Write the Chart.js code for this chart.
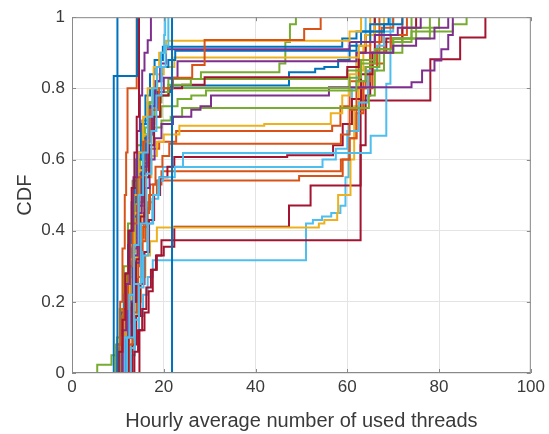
<!DOCTYPE html>
<html>
<head>
<meta charset="utf-8">
<script src="https://cdn.jsdelivr.net/npm/chart.js@4"></script>
<style>
  body { margin: 0; background: #fff; }
  canvas { display: block; }
</style>
</head>
<body>
<canvas id="cdf-chart" width="549" height="434"></canvas>
<script>
// --- AXES ---
const xTicks = [0, 20, 40, 60, 80, 100];
const yTicks = [0, 0.2, 0.4, 0.6, 0.8, 1];
const yTickLabels = ['0', '0.2', '0.4', '0.6', '0.8', '1'];

// MATLAB default colour order
const BLUE = '#0072BD', ORANGE = '#D95319', YELLOW = '#EDB120', PURPLE = '#7E2F8E',
      GREEN = '#77AC30', LIGHTBLUE = '#4DBEEE', RED = '#A2142F';

// --- CDF STEPS: [threads, cumulative fraction] ---
const s01 = [[9.9, 0], [9.9, 1]];
const s02 = [[21.8, 0], [21.8, 1]];
const s03 = [[9.1, 0], [9.1, 0.835], [14.2, 1]];
const s04 = [[9.4, 0], [10.2, 0.06], [11, 0.15], [11.6, 0.28], [12.3, 0.4], [13, 0.52], [13.6, 0.62], [14.1, 0.72], [14.6, 1]];
const s05 = [[9.3, 0], [9.8, 0.08], [10.5, 0.2], [11, 0.35], [11.5, 0.5], [11.8, 0.62], [12.1, 0.8], [14.1, 1]];
const s06 = [[10.2, 0], [11, 0.12], [11.8, 0.25], [12.6, 0.4], [13.4, 0.55], [14.2, 0.68], [14.8, 0.78], [15.3, 0.85], [15.8, 0.9], [16.5, 0.935], [17.2, 1]];
const s07 = [[10.6, 0], [11.5, 0.1], [12.5, 0.22], [13.5, 0.36], [14.5, 0.5], [15.5, 0.62], [16.5, 0.72], [17.5, 0.8], [18.5, 0.86], [19.4, 0.9], [20.1, 0.95], [20.3, 1]];
const s08 = [[11, 0], [12, 0.1], [13.5, 0.25], [15, 0.42], [16.2, 0.56], [17.3, 0.68], [18.4, 0.78], [19.5, 0.86], [20.4, 0.92], [21, 1]];
const s09 = [[9.6, 0], [10.4, 0.08], [11.2, 0.18], [12.2, 0.3], [13.2, 0.42], [14.3, 0.55], [15.5, 0.65], [17, 0.74], [19, 0.8], [22, 0.83], [26.2, 0.866], [28.9, 0.936], [50.6, 0.967], [54.2, 1]];
const s10 = [[9.5, 0], [10.5, 0.1], [11.5, 0.22], [12.5, 0.36], [13.5, 0.5], [14.5, 0.62], [15.5, 0.72], [16.5, 0.8], [17.8, 0.86], [19, 0.9], [20.5, 0.934], [60.5, 0.96], [63, 1]];
const s11 = [[9.7, 0], [10.5, 0.1], [11.3, 0.22], [12.2, 0.36], [13, 0.48], [14, 0.6], [15, 0.7], [16, 0.78], [17, 0.84], [18, 0.88], [19.8, 0.917], [58.9, 0.94], [62, 0.96], [65, 0.98], [69, 1]];
const s12 = [[10.8, 0], [11.6, 0.1], [12.5, 0.2], [13.4, 0.33], [14.3, 0.45], [15.2, 0.56], [16.2, 0.66], [17.2, 0.75], [18.2, 0.82], [19.2, 0.87], [20.5, 0.91], [60.5, 0.93], [66, 0.95], [71, 0.97], [76, 1]];
const s13 = [[10, 0], [10.8, 0.08], [11.6, 0.18], [12.5, 0.3], [13.5, 0.44], [14.5, 0.56], [15.6, 0.66], [16.8, 0.75], [18, 0.82], [19.5, 0.86], [21, 0.88], [22.5, 0.906], [62, 0.93], [65, 0.96], [68, 0.98], [72, 1]];
const s14 = [[10.3, 0], [11, 0.1], [11.8, 0.2], [12.7, 0.32], [13.6, 0.45], [14.6, 0.57], [15.6, 0.67], [16.6, 0.75], [17.6, 0.8], [18.6, 0.84], [20, 0.86], [22.3, 0.887], [62.5, 0.92], [64, 0.95], [66, 0.98], [68, 1]];
const s15 = [[10.5, 0], [11.3, 0.1], [12.2, 0.22], [13.2, 0.35], [14.2, 0.47], [15.2, 0.58], [16.3, 0.67], [17.5, 0.74], [18.7, 0.79], [20, 0.83], [23, 0.876], [62, 0.9], [70, 0.92], [75, 0.94], [79, 0.97], [82, 1]];
const s16 = [[8.9, 0], [9.6, 0.08], [10.4, 0.18], [11.3, 0.3], [12.2, 0.42], [13.2, 0.54], [14.2, 0.64], [15.3, 0.71], [16.5, 0.76], [18, 0.79], [21, 0.81], [25.9, 0.826], [28.1, 0.845], [45.2, 0.87], [46.5, 0.93], [47.5, 0.98], [48.8, 1]];
const s17 = [[11.5, 0], [12.3, 0.1], [13.1, 0.2], [14, 0.32], [14.9, 0.44], [15.8, 0.55], [16.8, 0.64], [17.9, 0.72], [19.2, 0.78], [21, 0.8], [24, 0.81], [28.9, 0.831], [60, 0.86], [62.5, 0.9], [64, 0.95], [66, 1]];
const s18 = [[9.5, 0], [10.2, 0.07], [11, 0.16], [11.9, 0.27], [12.8, 0.39], [13.8, 0.5], [14.8, 0.6], [15.9, 0.69], [17, 0.76], [18.5, 0.8], [21, 0.826], [60, 0.85], [63, 0.88], [66, 0.91], [70, 0.94], [75, 0.97], [80, 1]];
const s19 = [[9.2, 0], [9.9, 0.08], [10.7, 0.17], [11.6, 0.28], [12.5, 0.4], [13.5, 0.52], [14.5, 0.62], [15.6, 0.7], [16.8, 0.76], [18.5, 0.79], [21.5, 0.808], [47.3, 0.845], [53, 0.855], [55, 0.86], [58, 0.88], [60.5, 0.92], [63, 0.96], [68, 1]];
const s20 = [[10.1, 0], [10.9, 0.09], [11.7, 0.19], [12.6, 0.3], [13.6, 0.42], [14.6, 0.53], [15.7, 0.62], [16.8, 0.7], [18, 0.76], [19.5, 0.78], [21.2, 0.801], [60.5, 0.83], [63, 0.87], [66, 0.9], [70, 0.93], [74, 0.96], [78, 1]];
const s21 = [[5.5, 0], [5.5, 0.023], [8.6, 0.05], [9.8, 0.1], [10.8, 0.18], [11.8, 0.28], [12.8, 0.39], [13.8, 0.5], [14.9, 0.6], [16, 0.67], [17.5, 0.72], [19.5, 0.75], [23, 0.77], [26, 0.78], [29.2, 0.794], [62, 0.82], [64, 0.86], [67, 0.9], [70, 0.94], [74, 1]];
const s22 = [[11.2, 0], [12, 0.1], [12.9, 0.2], [13.8, 0.31], [14.8, 0.42], [15.8, 0.52], [16.9, 0.6], [18, 0.66], [19.5, 0.7], [22, 0.72], [26, 0.74], [28, 0.75], [30.3, 0.78], [56, 0.803], [74, 0.817], [76.3, 0.85], [79, 0.878], [80.5, 0.91], [82, 0.95], [83, 1]];
const s23 = [[9.8, 0], [10.6, 0.08], [11.5, 0.17], [12.4, 0.27], [13.4, 0.38], [14.4, 0.48], [15.5, 0.57], [16.6, 0.64], [17.8, 0.69], [19.5, 0.71], [21.5, 0.72], [24, 0.745], [64.7, 0.78], [66, 0.85], [68, 0.9], [72, 0.94], [78, 0.96], [83, 0.98], [86, 1]];
const s24 = [[10.5, 0], [11.3, 0.08], [12.2, 0.17], [13.1, 0.27], [14.1, 0.37], [15.1, 0.47], [16.2, 0.55], [17.3, 0.61], [18.5, 0.65], [20, 0.67], [23.4, 0.695], [41.9, 0.7], [56.4, 0.73], [58.9, 0.78], [60.5, 0.84], [62, 0.9], [64, 0.95], [66, 1]];
const s25 = [[9.4, 0], [10.1, 0.07], [10.9, 0.15], [11.8, 0.24], [12.7, 0.34], [13.7, 0.43], [14.7, 0.52], [15.8, 0.59], [17, 0.63], [19, 0.65], [22.7, 0.68], [56.7, 0.695], [58.5, 0.75], [60.5, 0.82], [62.5, 0.88], [65, 0.93], [67.5, 0.97], [70, 1]];
const s26 = [[11.6, 0], [12.4, 0.08], [13.2, 0.17], [14.1, 0.27], [15, 0.37], [16, 0.46], [17, 0.53], [18.2, 0.58], [19.7, 0.61], [21.2, 0.644], [58.6, 0.67], [60.5, 0.74], [62, 0.8], [64, 0.86], [66.5, 0.91], [69.5, 0.95], [73, 1]];
const s27 = [[12, 0], [12.8, 0.07], [13.7, 0.15], [14.6, 0.24], [15.6, 0.33], [16.6, 0.42], [17.7, 0.5], [19, 0.55], [22.4, 0.58], [24.2, 0.618], [65.1, 0.667], [68.5, 0.813], [69.4, 1]];
const s28 = [[12.4, 0], [13.2, 0.08], [14, 0.16], [14.9, 0.25], [15.8, 0.34], [16.8, 0.43], [17.9, 0.5], [19.2, 0.55], [20.8, 0.58], [22.3, 0.607], [46.9, 0.612], [56.9, 0.64], [59, 0.7], [61, 0.77], [63, 0.84], [65.5, 0.9], [68.5, 0.94], [72, 0.97], [75, 1]];
const s29 = [[11.8, 0], [12.6, 0.08], [13.5, 0.16], [14.4, 0.25], [15.4, 0.34], [16.4, 0.42], [17.5, 0.49], [18.8, 0.54], [19.8, 0.579], [54.6, 0.6], [57.5, 0.63], [60, 0.68], [62.5, 0.76], [64.5, 0.85], [66.5, 0.92], [68, 0.96], [70, 1]];
const s30 = [[10.8, 0], [11.6, 0.07], [12.5, 0.15], [13.4, 0.24], [14.4, 0.33], [15.4, 0.41], [16.5, 0.48], [17.7, 0.53], [19.5, 0.567], [58.6, 0.6], [60.5, 0.66], [62, 0.73], [63.5, 0.8], [65.5, 0.87], [68, 0.93], [72, 1]];
const s31 = [[10.2, 0], [11, 0.07], [11.8, 0.14], [12.7, 0.22], [13.6, 0.3], [14.6, 0.38], [15.6, 0.45], [16.8, 0.5], [18.5, 0.541], [49.5, 0.554], [59, 0.6], [60.5, 0.66], [62, 0.74], [63.5, 0.82], [65, 0.9], [67, 1]];
const s32 = [[11.4, 0], [12.2, 0.06], [13.1, 0.13], [14, 0.2], [15, 0.27], [16, 0.33], [17, 0.37], [18.5, 0.409], [53.8, 0.42], [55, 0.43], [57.8, 0.45], [58, 0.5], [60.7, 0.6], [61.5, 0.75], [62.5, 0.85], [63.5, 0.92], [65, 1]];
const s33 = [[12.9, 0], [13.6, 0.06], [14.4, 0.12], [15.3, 0.18], [16.2, 0.24], [17.2, 0.29], [18.3, 0.33], [20, 0.355], [22.3, 0.411], [47.3, 0.471], [52, 0.527], [62.9, 0.64], [64, 0.78], [65, 0.9], [66, 1]];
const s34 = [[14.7, 0], [14.7, 0.12], [15.8, 0.17], [16.7, 0.23], [17.6, 0.29], [18.5, 0.33], [19.5, 0.373], [62.9, 0.766], [78.1, 0.882], [84.6, 0.943], [90.1, 1]];
const s35 = [[12.2, 0], [12.9, 0.05], [13.7, 0.1], [14.6, 0.16], [15.5, 0.22], [16.5, 0.27], [17.6, 0.317], [51, 0.42], [52.5, 0.43], [54.5, 0.44], [56.5, 0.45], [58.5, 0.47], [59.6, 0.55], [60.3, 0.7], [61, 0.8], [62, 0.9], [64, 1]];

const lines = [
  [s01, BLUE], [s02, BLUE], [s03, BLUE], [s04, RED], [s05, ORANGE], [s06, PURPLE], [s07, LIGHTBLUE],
  [s08, LIGHTBLUE], [s09, ORANGE], [s10, YELLOW], [s11, BLUE], [s12, PURPLE], [s13, BLUE], [s14, YELLOW],
  [s15, PURPLE], [s16, GREEN], [s17, RED], [s18, GREEN], [s19, BLUE], [s20, GREEN], [s21, GREEN],
  [s22, PURPLE], [s23, GREEN], [s24, YELLOW], [s25, ORANGE], [s26, ORANGE], [s27, LIGHTBLUE], [s28, RED],
  [s29, LIGHTBLUE], [s30, ORANGE], [s31, ORANGE], [s32, YELLOW], [s33, RED], [s34, RED], [s35, LIGHTBLUE]
];

const FONT = '"Liberation Sans", Arial, Helvetica, sans-serif';
const TEXT_COLOR = '#3a3a3a';
const AXIS_COLOR = '#8a8a8a';

// MATLAB style box with small inward ticks
const boxPlugin = {
  id: 'box',
  afterDatasetsDraw(chart) {
    const { ctx, chartArea: a, scales: { x, y } } = chart;
    ctx.save();
    ctx.strokeStyle = AXIS_COLOR;
    ctx.lineWidth = 1;
    ctx.strokeRect(a.left + 0.5, a.top + 0.5, a.right - a.left - 1, a.bottom - a.top - 1);
    ctx.beginPath();
    xTicks.forEach(v => {
      const px = Math.round(x.getPixelForValue(v)) + 0.5;
      ctx.moveTo(px, a.bottom); ctx.lineTo(px, a.bottom - 4);
      ctx.moveTo(px, a.top); ctx.lineTo(px, a.top + 4);
    });
    yTicks.forEach(v => {
      const py = Math.round(y.getPixelForValue(v)) + 0.5;
      ctx.moveTo(a.left, py); ctx.lineTo(a.left + 4, py);
      ctx.moveTo(a.right, py); ctx.lineTo(a.right - 4, py);
    });
    ctx.stroke();
    ctx.restore();
  }
};

new Chart(document.getElementById('cdf-chart'), {
  type: 'line',
  data: {
    datasets: lines.map(([pts, color], i) => ({
      label: 'series ' + (i + 1),
      data: pts.map(([x, y]) => ({ x, y })),
      borderColor: color,
      borderWidth: 2,
      stepped: 'before',
      pointRadius: 0,
      fill: false,
      tension: 0
    }))
  },
  options: {
    responsive: false,
    animation: false,
    layout: { padding: { left: 0, right: 18, top: 16, bottom: 0 } },
    plugins: { legend: { display: false }, tooltip: { enabled: false } },
    scales: {
      x: {
        type: 'linear',
        min: 0, max: 100,
        afterBuildTicks: s => { s.ticks = xTicks.map(v => ({ value: v })); },
        afterFit: s => { s.height = 61; },
        ticks: { color: TEXT_COLOR, font: { family: FONT, size: 17 }, padding: 4, maxRotation: 0, callback: v => String(v) },
        grid: { color: '#e4e4e4', drawTicks: false },
        border: { display: false },
        title: { display: true, text: 'Hourly average number of used threads', color: TEXT_COLOR,
                 font: { family: FONT, size: 20 }, padding: { top: 0, bottom: 1 } }
      },
      y: {
        min: 0, max: 1,
        afterBuildTicks: s => { s.ticks = yTicks.map(v => ({ value: v })); },
        afterFit: s => { s.width = 72; },
        ticks: { color: TEXT_COLOR, font: { family: FONT, size: 17 }, padding: 7,
                 callback: (v, i) => yTickLabels[i] },
        grid: { color: '#e4e4e4', drawTicks: false },
        border: { display: false },
        title: { display: true, text: 'CDF', color: TEXT_COLOR,
                 font: { family: FONT, size: 20 }, padding: { top: 13, bottom: 0 } }
      }
    }
  },
  plugins: [boxPlugin]
});
</script>
</body>
</html>
